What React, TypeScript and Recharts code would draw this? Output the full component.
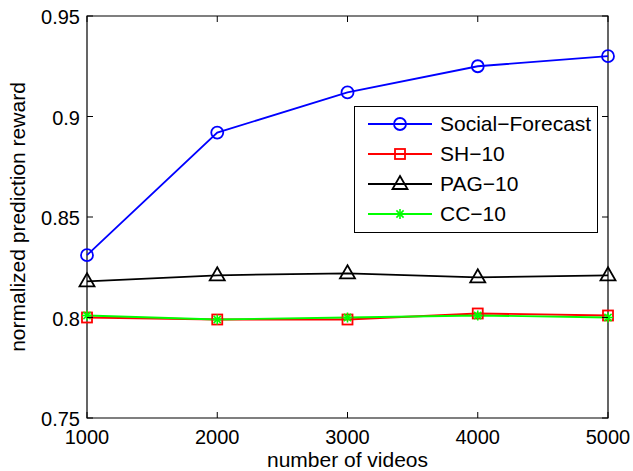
import { LineChart, Line, XAxis, YAxis, Legend, ReferenceArea, Label } from 'recharts'

const videos = [1000, 2000, 3000, 4000, 5000]
const socialForecast = [0.831, 0.892, 0.912, 0.925, 0.93]
const sh10 = [0.8, 0.799, 0.799, 0.802, 0.801]
const pag10 = [0.818, 0.821, 0.822, 0.820, 0.821]
const cc10 = [0.801, 0.799, 0.8, 0.801, 0.8]
const xTicks = [1000, 2000, 3000, 4000, 5000]
const yTicks = [0.75, 0.8, 0.85, 0.9, 0.95]
const seriesOrder = ['sf', 'sh', 'pag', 'cc']

const data = videos.map((v, i) => ({
  videos: v,
  sf: socialForecast[i],
  sh: sh10[i],
  pag: pag10[i],
  cc: cc10[i],
}))

const FONT = 'Arial, "Liberation Sans", Helvetica, sans-serif'
const LEFT = 87, RIGHT = 608, TOP = 16, BOTTOM = 418
const TICK = 6

const Circle = ({ cx, cy, stroke }: any) =>
  <circle cx={cx} cy={cy} r={6} fill="none" stroke={stroke} strokeWidth={1.8} />
const Square = ({ cx, cy, stroke }: any) =>
  <rect x={cx - 5} y={cy - 5} width={10} height={10} fill="none" stroke={stroke} strokeWidth={1.8} />
const Triangle = ({ cx, cy, stroke }: any) =>
  <path d={`M${cx},${cy - 8} L${cx + 7.5},${cy + 5} L${cx - 7.5},${cy + 5} Z`} fill="none" stroke={stroke} strokeWidth={1.8} />
const Star = ({ cx, cy, stroke }: any) => (
  <g stroke={stroke} strokeWidth={1.6}>
    <line x1={cx - 5} y1={cy} x2={cx + 5} y2={cy} />
    <line x1={cx} y1={cy - 5} x2={cx} y2={cy + 5} />
    <line x1={cx - 3.6} y1={cy - 3.6} x2={cx + 3.6} y2={cy + 3.6} />
    <line x1={cx - 3.6} y1={cy + 3.6} x2={cx + 3.6} y2={cy - 3.6} />
  </g>
)

const markers: Record<string, any> = { sf: Circle, sh: Square, pag: Triangle, cc: Star }

const XTick = ({ payload }: any) => {
  const x = payload.coordinate
  return (
    <g>
      <line x1={x} y1={BOTTOM} x2={x} y2={BOTTOM - TICK} stroke="#000" />
      <line x1={x} y1={TOP} x2={x} y2={TOP + TICK} stroke="#000" />
      <text x={x} y={444} textAnchor="middle" fontSize={20} fontFamily={FONT} fill="#000">{payload.value}</text>
    </g>
  )
}

const YTick = ({ payload }: any) => {
  const y = payload.coordinate
  return (
    <g>
      <line x1={LEFT} y1={y} x2={LEFT + TICK} y2={y} stroke="#000" />
      <line x1={RIGHT} y1={y} x2={RIGHT - TICK} y2={y} stroke="#000" />
      <text x={80} y={y + 8} textAnchor="end" fontSize={20} fontFamily={FONT} fill="#000">{payload.value}</text>
    </g>
  )
}

const LegendBox = ({ payload }: any) => {
  const items = [...(payload || [])].sort(
    (a: any, b: any) => seriesOrder.indexOf(a.dataKey) - seriesOrder.indexOf(b.dataKey))
  return (
    <svg width={244} height={127} style={{ overflow: 'visible', display: 'block' }}>
      <rect x={0.5} y={0.5} width={243} height={126} fill="#fff" stroke="#000" />
      {items.map((p: any, i: number) => {
        const y = 18 + i * 30
        const M = markers[p.dataKey]
        return (
          <g key={p.value}>
            <line x1={14} y1={y} x2={78} y2={y} stroke={p.color} strokeWidth={1.8} />
            <M cx={46} cy={y} stroke={p.color} />
            <text x={86} y={y + 7} fontSize={21} fontFamily={FONT} fill="#000">{p.value}</text>
          </g>
        )
      })}
    </svg>
  )
}

export default function App() {
  return (
    <div style={{ position: 'absolute', left: 0, top: 0, background: '#fff' }}>
      <LineChart width={633} height={471} data={data} margin={{ top: TOP, right: 633 - RIGHT, bottom: 23, left: 27 }}>
        <XAxis dataKey="videos" type="number" domain={[1000, 5000]} ticks={xTicks} tickLine={false}
          axisLine={false} tick={<XTick />} height={30} interval={0}>
          <Label content={() => (
            <text x={(LEFT + RIGHT) / 2} y={467} textAnchor="middle" fontSize={21} fontFamily={FONT} fill="#000">number of videos</text>
          )} />
        </XAxis>
        <YAxis type="number" domain={[0.75, 0.95]} ticks={yTicks} tickLine={false} axisLine={false}
          tick={<YTick />} width={60} interval={0}>
          <Label content={() => (
            <text x={25} y={(TOP + BOTTOM) / 2} transform={`rotate(-90 25 ${(TOP + BOTTOM) / 2})`} textAnchor="middle"
              fontSize={21} fontFamily={FONT} fill="#000">normalized prediction reward</text>
          )} />
        </YAxis>
        <ReferenceArea x1={1000} x2={5000} y1={0.75} y2={0.95} fill="none" stroke="#000" strokeWidth={1.2} fillOpacity={0} />
        <Line dataKey="sf" name="Social−Forecast" stroke="#0000ff" strokeWidth={1.8} dot={<Circle />} isAnimationActive={false} />
        <Line dataKey="sh" name="SH−10" stroke="#ff0000" strokeWidth={1.8} dot={<Square />} isAnimationActive={false} />
        <Line dataKey="pag" name="PAG−10" stroke="#000000" strokeWidth={1.8} dot={<Triangle />} isAnimationActive={false} />
        <Line dataKey="cc" name="CC−10" stroke="#00ff00" strokeWidth={1.8} dot={<Star />} isAnimationActive={false} />
        <Legend content={<LegendBox />}
          wrapperStyle={{ position: 'absolute', left: 354, top: 106, width: 0, height: 0, overflow: 'visible' }} />
      </LineChart>
    </div>
  )
}
